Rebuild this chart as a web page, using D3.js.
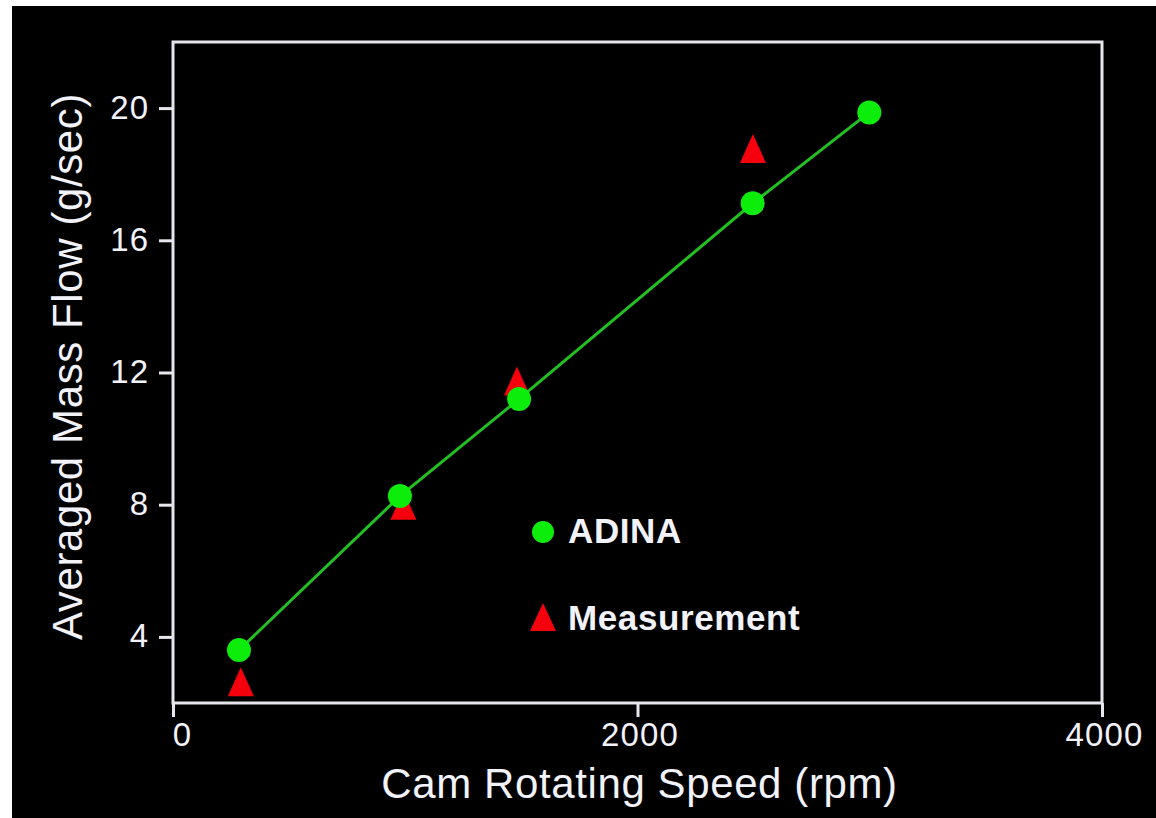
<!DOCTYPE html>
<html>
<head>
<meta charset="utf-8">
<script src="https://d3js.org/d3.v7.min.js"></script>
<style>
  html, body { margin: 0; padding: 0; background: #ffffff; }
  svg { display: block; }
  text { font-family: "Liberation Sans", Arial, Helvetica, sans-serif; }
</style>
</head>
<body>
<svg id="chart" width="1156" height="818"></svg>
<script>
// Cam speed (rpm) vs averaged mass flow (g/sec)
const adinaSpeed = [284, 977, 1490, 2496, 2998];
const adinaFlow  = [3.6, 8.26, 11.2, 17.12, 19.87];
const measSpeed  = [292, 992, 1481, 2497];
const measFlow   = [2.64, 7.98, 11.74, 18.78];

const xTicks = [0, 2000, 4000];
const yTicks = [4, 8, 12, 16, 20];

const legendLabels = ["ADINA", "Measurement"];

const svg = d3.select("#chart");
const W = 1156, H = 818;

// black panel
svg.append("rect").attr("x", 12).attr("y", 6).attr("width", W - 12).attr("height", H - 6).attr("fill", "#000");

const plot = { left: 173, right: 1102, top: 42, bottom: 703 };

const x = d3.scaleLinear().domain([0, 4000]).range([plot.left, plot.right]);
const y = d3.scaleLinear().domain([2, 22]).range([plot.bottom, plot.top]);

const frameColor = "#e6e6ec";
const textColor = "#f2f2fa";

// frame
svg.append("rect")
  .attr("x", plot.left).attr("y", plot.top)
  .attr("width", plot.right - plot.left).attr("height", plot.bottom - plot.top)
  .attr("fill", "none").attr("stroke", frameColor).attr("stroke-width", 3);

// x axis
const xAxis = svg.append("g")
  .attr("transform", `translate(0,${plot.bottom})`)
  .call(d3.axisBottom(x).tickValues(xTicks).tickSize(14).tickFormat(d3.format("d")));
xAxis.select(".domain").remove();
xAxis.selectAll(".tick line").attr("stroke", frameColor).attr("stroke-width", 3);
xAxis.selectAll(".tick text")
  .attr("fill", textColor)
  .attr("font-size", 33)
  .attr("letter-spacing", 1.2)
  .attr("y", 20)
  .attr("dy", "0.71em")
  .attr("dx", d => d === 0 ? 9 : 2);

// y axis
const yAxis = svg.append("g")
  .attr("transform", `translate(${plot.left},0)`)
  .call(d3.axisLeft(y).tickValues(yTicks).tickSize(14).tickFormat(d3.format("d")));
yAxis.select(".domain").remove();
yAxis.selectAll(".tick line").attr("stroke", frameColor).attr("stroke-width", 3);
yAxis.selectAll(".tick text")
  .attr("fill", textColor)
  .attr("font-size", 33)
  .attr("letter-spacing", 1)
  .attr("x", -24)
  .attr("dy", "0.3em");

// axis titles
svg.append("text")
  .attr("x", (plot.left + plot.right) / 2 + 2)
  .attr("y", 798)
  .attr("text-anchor", "middle")
  .attr("fill", textColor)
  .attr("font-size", 42)
  .attr("letter-spacing", 0.6)
  .text("Cam Rotating Speed (rpm)");

svg.append("text")
  .attr("transform", `translate(82,${(plot.top + plot.bottom) / 2 - 6}) rotate(-90)`)
  .attr("text-anchor", "middle")
  .attr("fill", textColor)
  .attr("font-size", 42)
  .attr("letter-spacing", 0.6)
  .text("Averaged Mass Flow (g/sec)");

const green = "#0ced0c";
const lineGreen = "#22c022";
const red = "#f5000c";

const tri = (w, h) => `M0,${-h / 2}L${w / 2},${h / 2}L${-w / 2},${h / 2}Z`;

// measurement triangles
svg.append("g").selectAll("path")
  .data(measSpeed.map((s, i) => [s, measFlow[i]]))
  .join("path")
  .attr("d", tri(26, 29))
  .attr("transform", d => `translate(${x(d[0])},${y(d[1])})`)
  .attr("fill", red);

// ADINA line
const adina = adinaSpeed.map((s, i) => [s, adinaFlow[i]]);
svg.append("path")
  .datum(adina)
  .attr("d", d3.line().x(d => x(d[0])).y(d => y(d[1])))
  .attr("fill", "none")
  .attr("stroke", lineGreen)
  .attr("stroke-width", 3);

// ADINA circles
svg.append("g").selectAll("circle")
  .data(adina)
  .join("circle")
  .attr("cx", d => x(d[0]))
  .attr("cy", d => y(d[1]))
  .attr("r", 12)
  .attr("fill", green);

// legend
const legend = svg.append("g").attr("transform", "translate(543,0)");
legend.append("circle").attr("cx", 0).attr("cy", 532).attr("r", 11).attr("fill", green);
legend.append("path").attr("d", tri(26, 28)).attr("transform", "translate(0,617)").attr("fill", red);
legend.selectAll("text")
  .data(legendLabels)
  .join("text")
  .attr("x", 25)
  .attr("y", (d, i) => [543, 630][i])
  .attr("fill", textColor)
  .attr("font-size", 35)
  .attr("font-weight", "bold")
  .attr("letter-spacing", 0.6)
  .text(d => d);
</script>
</body>
</html>
